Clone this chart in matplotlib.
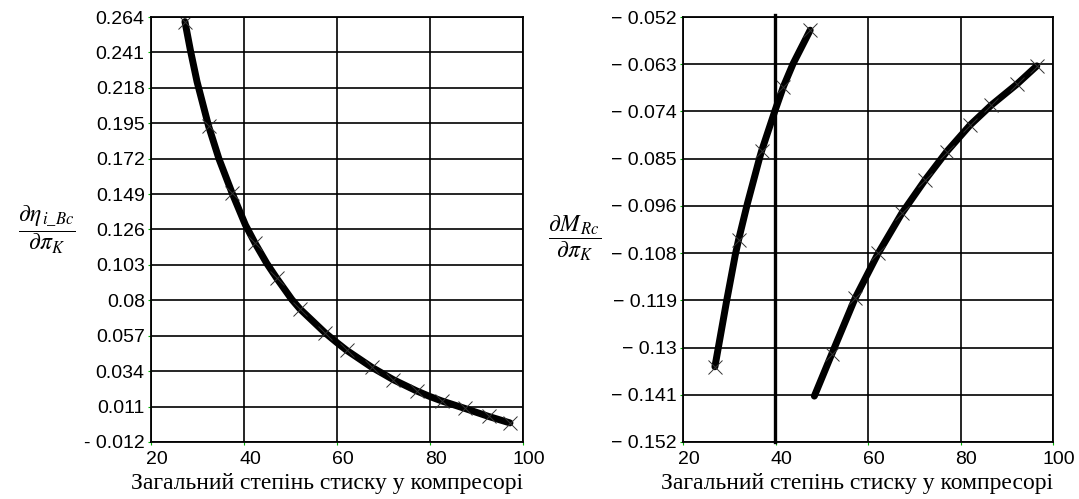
import numpy as np
import matplotlib.pyplot as plt
import matplotlib.transforms as mtransforms

plt.rcParams['mathtext.fontset'] = 'stix'

# left chart: marker points and extra points
x_eta = [27.3, 32.4, 37.4, 42.4, 47.0, 52.0, 57.4, 62.1, 67.5, 72.1, 77.1, 82.5, 87.5, 92.6, 97.2]
y_eta = [0.261, 0.193, 0.150, 0.117, 0.0945, 0.0745, 0.0590, 0.0475, 0.0365, 0.0285,
         0.0212, 0.0147, 0.0098, 0.0046, 0.0004]
x_eta_line = [27.3, 28.5, 29.9, 32.4, 34.6, 37.4, 40.3, 42.4, 44.9, 47.0, 50.3, 52.0, 57.4,
              60.0, 62.1, 67.5, 72.1, 77.1, 80.0, 82.5, 87.5, 92.6, 97.2]
y_eta_line = [0.261, 0.242, 0.222, 0.193, 0.172, 0.150, 0.129, 0.117, 0.104, 0.0945, 0.0805,
              0.0745, 0.0590, 0.0525, 0.0475, 0.0365, 0.0285, 0.0212, 0.0175, 0.0147,
              0.0098, 0.0046, 0.0004]

# right chart, first branch
x_m1 = [26.9, 32.0, 37.0, 41.7, 47.5]
y_m1 = [-0.1343, -0.1045, -0.0835, -0.0684, -0.0551]
x_m1_line = [26.9, 29.4, 31.3, 32.0, 33.9, 36.6, 37.0, 39.9, 41.7, 43.8, 47.5]
y_m1_line = [-0.1343, -0.119, -0.108, -0.1045, -0.096, -0.085, -0.0835, -0.074, -0.0684,
             -0.063, -0.0551]

# right chart, second branch
x_m2 = [52.2, 57.2, 62.2, 67.3, 72.3, 77.0, 82.1, 86.7, 92.2, 96.5]
y_m2 = [-0.1312, -0.1182, -0.1076, -0.0982, -0.0904, -0.0837, -0.0774, -0.0727, -0.0678,
        -0.0635]
x_m2_start, y_m2_start = 48.4, -0.1412

x_ticks = [20, 40, 60, 80, 100]
eta_ticks = [-0.012, 0.011, 0.034, 0.057, 0.08, 0.103, 0.126, 0.149, 0.172, 0.195,
             0.218, 0.241, 0.264]
eta_labels = ['- 0.012', '0.011', '0.034', '0.057', '0.08', '0.103', '0.126', '0.149',
              '0.172', '0.195', '0.218', '0.241', '0.264']
m_ticks = list(np.linspace(-0.152, -0.052, 10))
m_labels = ['\u2212 0.152', '\u2212 0.141', '\u2212 0.13', '\u2212 0.119', '\u2212 0.108',
            '\u2212 0.096', '\u2212 0.085', '\u2212 0.074', '\u2212 0.063', '\u2212 0.052']
x_mark = 39.9

xlabel = 'Загальний степінь стиску у компресорі'

fig = plt.figure(figsize=(10.79, 4.99), dpi=100)
ax1 = fig.add_axes([151 / 1079, 1 - 442 / 499, 372 / 1079, 425 / 499])
ax2 = fig.add_axes([683 / 1079, 1 - 442 / 499, 370 / 1079, 425 / 499])

shift = mtransforms.ScaledTranslation(6 / 100, 0, fig.dpi_scale_trans)


def style(ax, yticks, ylabels):
    ax.set_xlim(20, 100)
    ax.set_ylim(yticks[0], yticks[-1])
    ax.set_xticks(x_ticks)
    ax.set_yticks(yticks)
    ax.set_yticklabels(ylabels)
    ax.grid(True, color='black', linewidth=1.2)
    ax.set_axisbelow(True)
    for s in ax.spines.values():
        s.set_linewidth(1.3)
    ax.tick_params(axis='both', length=2, color='#00b000', labelsize=14)
    ax.tick_params(axis='x', pad=4.5)
    ax.tick_params(axis='y', pad=2.5)
    for t in ax.get_xticklabels() + ax.get_yticklabels():
        t.set_fontfamily('Liberation Sans')
    for t in ax.get_xticklabels():
        t.set_transform(t.get_transform() + shift)


style(ax1, eta_ticks, eta_labels)
style(ax2, m_ticks, m_labels)

line_kw = dict(color='black', lw=5, solid_capstyle='round', solid_joinstyle='round')
mark_kw = dict(ls='none', marker='x', ms=10, mew=0.7, color='#333333')

ax1.plot(x_eta_line, y_eta_line, **line_kw)
ax1.plot(x_eta, y_eta, **mark_kw)

ax2.plot(x_m1_line, y_m1_line, **line_kw)
ax2.plot(x_m1, y_m1, **mark_kw)
ax2.plot([x_m2_start] + x_m2, [y_m2_start] + y_m2, **line_kw)
ax2.plot(x_m2, y_m2, **mark_kw)
ax2.axvline(x_mark, ymin=0, ymax=1.005, color='black', lw=2.4, clip_on=False)

# x labels
fig.text(327 / 1079, 1 - 484 / 499, xlabel, fontsize=17, family='Liberation Serif',
         ha='center', va='center')
fig.text(857 / 1079, 1 - 484 / 499, xlabel, fontsize=17, family='Liberation Serif',
         ha='center', va='center')

# y labels
fig.text(47 / 1079, 1 - 230 / 499,
         r'$\dfrac{\partial\eta_{\,i\_Bc}}{\partial\pi_{K}}$',
         fontsize=17, ha='center', va='center')
fig.text(575 / 1079, 1 - 238 / 499,
         r'$\dfrac{\partial M_{\,Rc}}{\partial\pi_{K}}$',
         fontsize=17, ha='center', va='center')

fig.savefig('out.png', dpi=100)
